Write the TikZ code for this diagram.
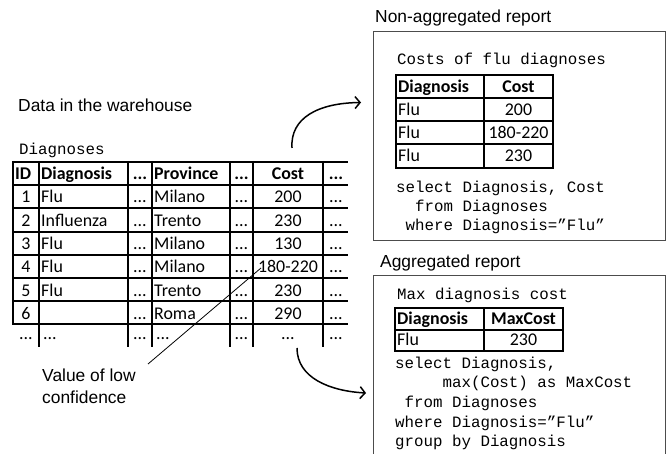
\documentclass[tikz,border=0pt]{standalone}
\usepackage{fontspec}
\usetikzlibrary{arrows.meta}
\newfontfamily\tabfam{Carlito}
\newfontfamily\monofam{Liberation Mono}
\newfontfamily\lblfam{Liberation Sans}
\newcommand\tabfnt{\tabfam\fontsize{17.9}{20}\selectfont}
\newcommand\monofnt{\monofam\fontsize{15.8}{19}\selectfont}
\newcommand\lblfnt{\lblfam\fontsize{17.4}{20}\selectfont}
\tikzset{
 gridline/.style={line width=2pt},
 tl/.style={font=\tabfnt, inner sep=0pt, anchor=base west},
 tc/.style={font=\tabfnt, inner sep=0pt, anchor=base},
 tlb/.style={font=\tabfnt\bfseries, inner sep=0pt, anchor=base west},
 tcb/.style={font=\tabfnt\bfseries, inner sep=0pt, anchor=base},
 mono/.style={font=\monofnt, inner sep=0pt, anchor=base west},
 lbl/.style={font=\lblfnt, inner sep=0pt, anchor=base west},
 report/.style={draw=black!70, line width=1pt},
 flow/.style={line width=1.5pt, -{Straight Barb[length=5pt,width=12pt]}},
 thinline/.style={line width=0.8pt},
}
\begin{document}
\begin{tikzpicture}[x=1pt,y=-1pt]
\useasboundingbox (0,0) rectangle (667,454);

% ---------- Warehouse table ----------
\node[lbl] (lwh) at (18,111.5) {Data in the warehouse};
\node[mono] (ldg) at (19,154.5) {Diagnoses};

\foreach \y in {162,185,208,232,255,278,301,324}
  \draw[gridline] (12,\y) -- (348,\y);
\draw[gridline] (13,161) -- (13,325);
\foreach \x in {39,128,152,230,253,323}
  \draw[gridline] (\x,161) -- (\x,347);

\node[tlb] (mh-id) at (15,179.5) {ID};
\node[tlb] (mh-dg) at (41,179.5) {Diagnosis};
\node[tcb] (mh-a)  at (140,179.5) {...};
\node[tlb] (mh-pr) at (154,179.5) {Province};
\node[tcb] (mh-b)  at (241.5,179.5) {...};
\node[tcb] (mh-co) at (288,179.5) {Cost};
\node[tcb] (mh-c)  at (336,179.5) {...};

\foreach \r/\dg/\pr/\co/\yb in {1/Flu/Milano/200/203, 2/Influenza/Trento/230/226.5,
   3/Flu/Milano/130/250, 4/Flu/Milano/180-220/273, 5/Flu/Trento/230/296.5, 6/{}/Roma/290/319.5}{
  \node[tc] (m\r-id) at (26,\yb) {\r};
  \node[tl] (m\r-dg) at (41,\yb) {\dg};
  \node[tc] (m\r-a)  at (140,\yb) {...};
  \node[tl] (m\r-pr) at (154,\yb) {\pr};
  \node[tc] (m\r-b)  at (241.5,\yb) {...};
  \node[tc] (m\r-co) at (288,\yb) {\co};
  \node[tc] (m\r-c)  at (336,\yb) {...};
}
\node[tc] (ml-id) at (26,340) {...};
\node[tl] (ml-dg) at (43,340) {...};
\node[tc] (ml-a)  at (140,340) {...};
\node[tl] (ml-pr) at (156,340) {...};
\node[tc] (ml-b)  at (241.5,340) {...};
\node[tc] (ml-co) at (288,340) {...};
\node[tc] (ml-c)  at (336,340) {...};

% low-confidence annotation
\coordinate (lc1) at (261,268);
\coordinate (lc2) at (148,364);
\draw[thinline] (lc1) -- (lc2);
\node[lbl] (lv1) at (42,381.5) {Value of low};
\node[lbl] (lv2) at (42,403.5) {confidence};

% ---------- Non-aggregated report ----------
\node[lbl] (lna) at (375,23) {Non-aggregated report};
\draw[report] (373,32) rectangle (665,241);
\node[mono] (tna) at (397,65) {Costs of flu diagnoses};
\draw[gridline] (396,75) rectangle (553,168);
\foreach \y in {98,121,144} \draw[gridline] (396,\y) -- (553,\y);
\draw[gridline] (484,75) -- (484,168);
\node[tlb] (nh-dg) at (398,92.5) {Diagnosis};
\node[tcb] (nh-co) at (518.5,92.5) {Cost};
\foreach \r/\co/\yb in {1/200/115.5, 2/180-220/138.5, 3/230/162}{
  \node[tl] (n\r-dg) at (398,\yb) {Flu};
  \node[tc] (n\r-co) at (518.5,\yb) {\co};
}
\node[mono] (qn1) at (396,193) {select Diagnosis, Cost};
\node[mono] (qn2) at (415,212) {from Diagnoses};
\node[mono] (qn3) at (405.5,231) {where Diagnosis=”Flu”};

% ---------- Aggregated report ----------
\node[lbl] (lag) at (380,268) {Aggregated report};
\draw[report] (373,455) -- (373,276) -- (665,276) -- (665,455);
\node[mono] (tag) at (397,300) {Max diagnosis cost};
\draw[gridline] (395,308) rectangle (563,351);
\draw[gridline] (395,330) -- (563,330);
\draw[gridline] (484,308) -- (484,351);
\node[tlb] (ah-dg) at (397,325) {Diagnosis};
\node[tcb] (ah-co) at (523.5,325) {MaxCost};
\node[tl] (a1-dg) at (397,346) {Flu};
\node[tc] (a1-co) at (523.5,346) {230};
\node[mono] (qa1) at (395,368.5) {select Diagnosis,};
\node[mono] (qa2) at (442.4,388) {max(Cost) as MaxCost};
\node[mono] (qa3) at (404.5,407.5) {from Diagnoses};
\node[mono] (qa4) at (395,427) {where Diagnosis=”Flu”};
\node[mono] (qa5) at (395,446.5) {group by Diagnosis};

% ---------- Arrows ----------
\coordinate (a1s) at (292,148);
\coordinate (a1e) at (361,102.5);
\draw[flow] (a1s) .. controls (290,118) and (318,103) .. (a1e);
\coordinate (a2s) at (297,348);
\coordinate (a2e) at (366,393);
\draw[flow] (a2s) .. controls (297,378) and (330,391) .. (a2e);
\end{tikzpicture}
\end{document}
